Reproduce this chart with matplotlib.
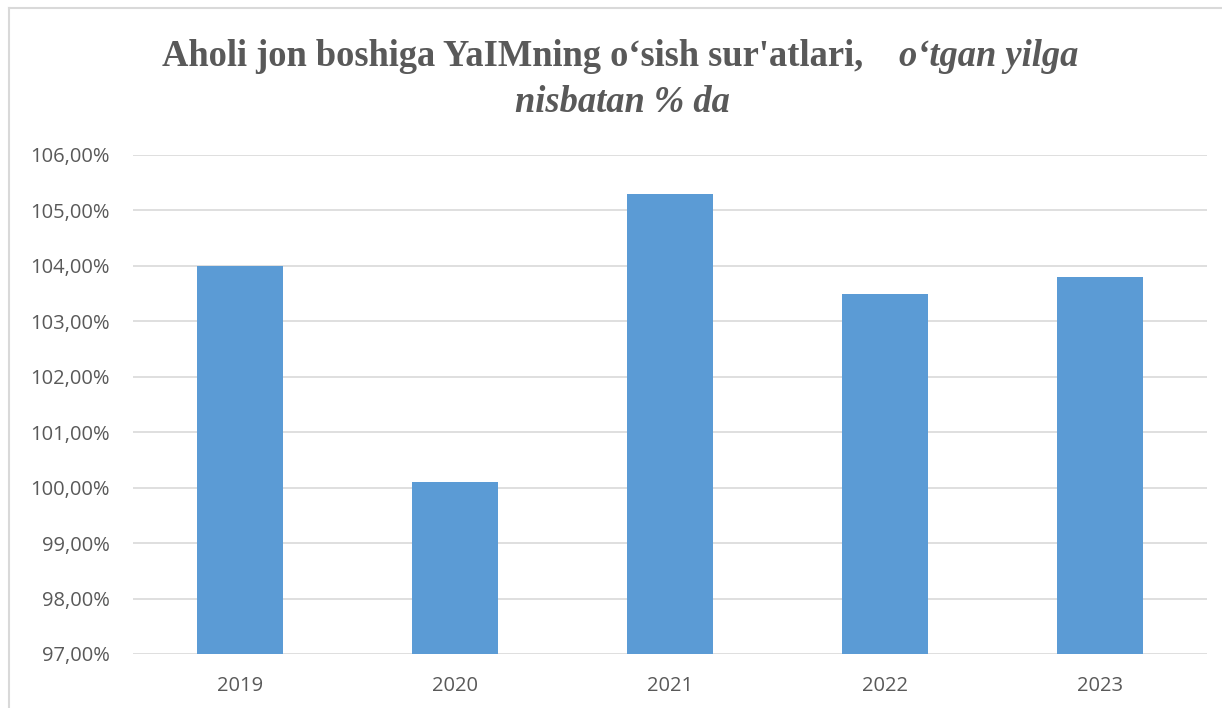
import matplotlib
matplotlib.use("Agg")
import matplotlib.pyplot as plt
from matplotlib.ticker import FuncFormatter
from matplotlib.lines import Line2D

# Ma'lumotlar
years = ["2019", "2020", "2021", "2022", "2023"]
growth = [104.0, 100.1, 105.3, 103.5, 103.8]
y_ticks = [97, 98, 99, 100, 101, 102, 103, 104, 105, 106]

W, H = 1222, 708
fig = plt.figure(figsize=(W / 100, H / 100), dpi=100)
ax = fig.add_axes([133 / W, 1 - 654 / H, (1207 - 133) / W, (654 - 155) / H])

grey_txt = "#595959"
grid_col = "#d9d9d9"

ax.bar(range(len(years)), growth, width=0.4, color="#5b9bd5", zorder=3)
ax.set_xlim(-0.5, len(years) - 0.5)
ax.set_ylim(97, 106)
ax.set_yticks(y_ticks)
ax.yaxis.set_major_formatter(FuncFormatter(lambda v, p: f"{v:.2f}%".replace(".", ",")))
ax.set_xticks(range(len(years)))
ax.set_xticklabels(years)

ax.grid(axis="y", color=grid_col, linewidth=1.2, zorder=0)
for s in ax.spines.values():
    s.set_visible(False)
ax.tick_params(length=0, labelsize=14.5, labelcolor=grey_txt)
ax.tick_params(axis="y", pad=16.5)
ax.tick_params(axis="x", pad=16)
for lab in ax.get_xticklabels() + ax.get_yticklabels():
    lab.set_fontfamily("Open Sans")

# Sarlavha
fs = 26.3
fig.text(863 / W, 1 - 57 / H, "Aholi jon boshiga YaIMning o‘sish sur'atlari,",
         ha="right", va="center", fontsize=fs, fontweight="bold",
         family="Liberation Serif", color=grey_txt)
fig.text(899 / W, 1 - 57 / H, "o‘tgan yilga",
         ha="left", va="center", fontsize=fs, fontweight="bold", style="italic",
         family="Liberation Serif", color=grey_txt)
fig.text(622 / W, 1 - 103 / H, "nisbatan % da",
         ha="center", va="center", fontsize=fs, fontweight="bold", style="italic",
         family="Liberation Serif", color=grey_txt)

# Diagramma ramkasi
fig.add_artist(Line2D([9 / W, 9 / W], [0, 1 - 8 / H], color=grid_col, lw=1.5,
                      transform=fig.transFigure))
fig.add_artist(Line2D([9 / W, 1], [1 - 8 / H, 1 - 8 / H], color=grid_col, lw=1.5,
                      transform=fig.transFigure))

fig.savefig("out.png", dpi=100)
